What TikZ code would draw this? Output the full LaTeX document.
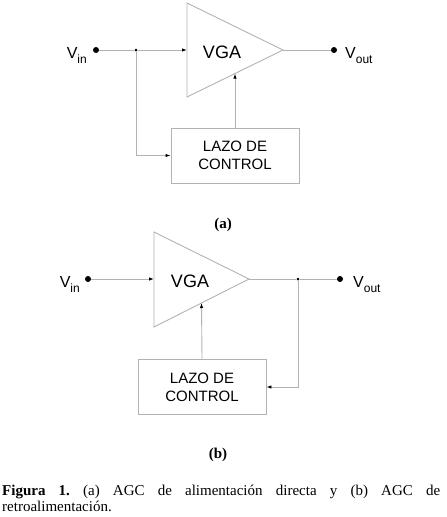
\documentclass[tikz,border=0pt]{standalone}
\usepackage{fontspec}
\setmainfont{Liberation Sans}
\newfontfamily\capfont{Liberation Serif}
\usetikzlibrary{arrows.meta,calc}
\newcommand{\sig}[2]{V\raisebox{-5pt}{\fontsize{12}{12}\selectfont #2}}

\begin{document}
\begin{tikzpicture}[x=1pt, y=-1pt,
  line/.style={draw=gray!60, line width=0.9pt},
  arrow/.style={line, -{Latex[black, length=5pt, width=3.5pt]}},
  ctrlbox/.style={line, minimum width=128pt, minimum height=55pt, inner sep=0pt,
                  align=center, font=\fontsize{15}{18}\selectfont},
  port/.style={circle, fill=black, inner sep=0pt, minimum size=6pt},
  joint/.style={circle, fill=black, inner sep=0pt, minimum size=3pt},
  siglabel/.style={font=\fontsize{16}{18}\selectfont, inner sep=0pt},
  amp/.style={font=\fontsize{18}{20}\selectfont, inner sep=0pt},
  sublabel/.style={font=\capfont\bfseries\fontsize{15}{16}\selectfont, inner sep=0pt}
]
\useasboundingbox (0,0) rectangle (447,517);

% (a) alimentacion directa
\coordinate (topA) at (187,3);
\coordinate (botA) at (187,97);
\coordinate (tipA) at (283,50);
\coordinate (inpA) at (187,50);
\draw[line] (topA) -- (tipA) -- (botA) -- cycle;
\node[amp] (vgaA) at (222,52) {VGA};
\node[port] (inA) at (96,50) {};
\node[joint] (jA) at (136,50) {};
\node[port] (outA) at (334,50) {};
\node[siglabel, anchor=base east] (vinA) at (87,58) {\sig{V}{in}};
\node[siglabel, anchor=base west] (voutA) at (345,58) {\sig{V}{out}};
\node[ctrlbox] (ctrlA) at (235,155.5) {LAZO DE\\CONTROL};

\draw[line] (inA) -- (jA);
\draw[arrow] (jA) -- (inpA);
\draw[line] (tipA) -- (outA);
\draw[arrow] (jA) |- (ctrlA.west);
\draw[arrow] (ctrlA.north) -- ($(botA)!0.5!(tipA)$);

\node[sublabel] (labA) at (223,225) {(a)};

% (b) retroalimentacion
\coordinate (topB) at (154,232);
\coordinate (botB) at (154,327);
\coordinate (tipB) at (249,279);
\coordinate (inpB) at (154,279);
\draw[line] (topB) -- (tipB) -- (botB) -- cycle;
\node[amp] (vgaB) at (190,281) {VGA};
\node[port] (inB) at (88,279) {};
\node[joint] (jB) at (298,279) {};
\node[port] (outB) at (340,279) {};
\node[siglabel, anchor=base east] (vinB) at (80,287) {\sig{V}{in}};
\node[siglabel, anchor=base west] (voutB) at (353,287) {\sig{V}{out}};
\node[ctrlbox] (ctrlB) at (202,387) {LAZO DE\\CONTROL};

\draw[arrow] (inB) -- (inpB);
\draw[line] (tipB) -- (jB) -- (outB);
\draw[arrow] (jB) |- (ctrlB.east);
\draw[arrow] (ctrlB.north) -- ($(botB)!0.5!(tipB)$);

\node[sublabel] (labB) at (218,455) {(b)};

% pie de figura
\node[anchor=north west, text width=438pt, align=justify, inner sep=0pt,
      font=\capfont\fontsize{15}{16.5}\selectfont\frenchspacing] (caption) at (2,484.5)
  {\textbf{Figura 1.} (a) AGC de alimentación directa y (b) AGC de\linebreak retroalimentación.};
\end{tikzpicture}
\end{document}
